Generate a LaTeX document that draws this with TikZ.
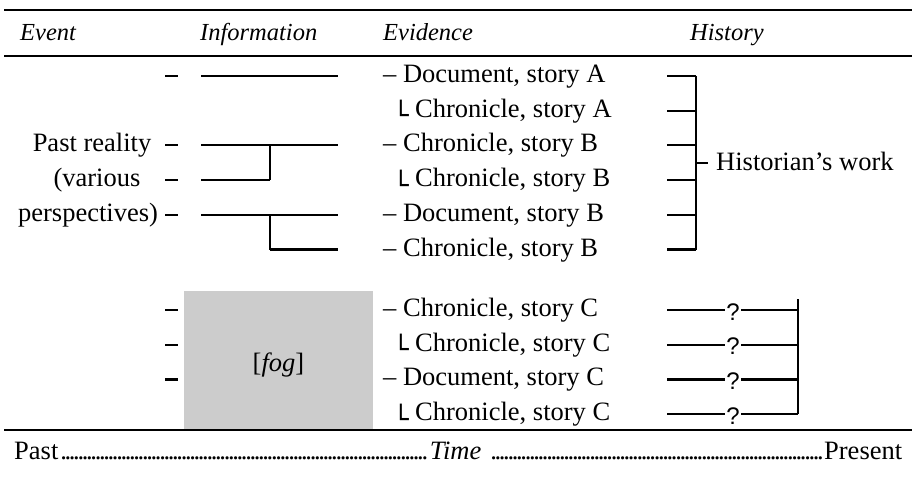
\documentclass[tikz,border=0pt]{standalone}
\usepackage{fontspec}
\setmainfont{Liberation Serif}
\newfontfamily\boxfont{DejaVu Sans}
\newfontfamily\qfont{Liberation Sans}
\definecolor{fogc}{HTML}{CCCCCC}
\newcommand{\cornermark}{\makebox[17pt][l]{\hspace{-5pt}\raisebox{-7.6pt}{\boxfont\fontsize{26}{26}\selectfont └}}}
\newcommand{\dotsleader}[1]{\leaders\hbox to 4.3pt{\hss.\hss}\hskip 0pt plus #1fill\relax}
\tikzset{
  hl/.style={line width=2.2pt},
  vl/.style={line width=1.3pt},
  rulel/.style={line width=1.3pt},
  txt/.style={inner sep=0pt, font=\fontsize{26.5}{30}\selectfont},
  hdr/.style={inner sep=0pt, font=\fontsize{24.5}{28}\selectfont\itshape},
  qm/.style={inner sep=0pt, font=\qfont\fontsize{24}{26}\selectfont},
}
\begin{document}
\begin{tikzpicture}[x=1pt,y=-1pt]
\useasboundingbox (0,0) rectangle (912,489);
% rules
\coordinate (r1a) at (4,10);  \coordinate (r1b) at (912,10);
\coordinate (r2a) at (4,56);  \coordinate (r2b) at (912,56);
\draw[rulel] (r1a) -- (r1b);
\draw[rulel] (r2a) -- (r2b);
% header
\node[hdr,anchor=base west] (hEvent) at (20,40.5) {Event};
\node[hdr,anchor=base west] (hInfo) at (200,40.5) {Information};
\node[hdr,anchor=base west] (hEvid) at (383,40.5) {Evidence};
\node[hdr,anchor=base west] (hHist) at (690,40.5) {History};
% event column
\node[txt,anchor=base] (past) at (92,151.9) {Past reality};
\node[txt,anchor=base] (various) at (97,186.6) {(various};
\node[txt,anchor=base] (persp) at (88,221.3) {perspectives)};
\foreach \i/\y in {1/76,2/145.4,3/180.1,4/214.8,5/310,6/344.7,7/379.4}{
  \coordinate (ea\i) at (165,\y); \coordinate (eb\i) at (178,\y);
  \draw[hl] (ea\i) -- (eb\i);
}
% information column
\coordinate (i1a) at (201,76);    \coordinate (i1b) at (338,76);
\coordinate (i2a) at (201,145.4); \coordinate (i2m) at (270,145.4); \coordinate (i2b) at (338,145.4);
\coordinate (i3a) at (201,180.1); \coordinate (i3m) at (270,180.1);
\coordinate (i4a) at (201,214.8); \coordinate (i4m) at (270,214.8); \coordinate (i4b) at (338,214.8);
\coordinate (i5m) at (270,249.5); \coordinate (i5b) at (338,249.5);
\draw[hl] (i1a) -- (i1b);
\draw[hl] (i2a) -- (i2b);
\draw[hl] (i3a) -- (i3m);
\draw[vl] (i2m) -- (i3m);
\draw[hl] (i4a) -- (i4b);
\draw[vl] (i4m) -- (i5m);
\draw[hl] (i5m) -- (i5b);
% fog
\coordinate (fogtl) at (184,291); \coordinate (fogbr) at (373,430);
\fill[fogc] (fogtl) rectangle (fogbr);
\node[txt,anchor=base] (fog) at (278.5,371) {[\textit{fog}]};
% evidence column
\node[txt,anchor=base west] (ev1) at (383,82.5) {– Document, story A};
\node[txt,anchor=base west] (ev2) at (398,117.2) {\cornermark Chronicle, story A};
\node[txt,anchor=base west] (ev3) at (383,151.9) {– Chronicle, story B};
\node[txt,anchor=base west] (ev4) at (398,186.6) {\cornermark Chronicle, story B};
\node[txt,anchor=base west] (ev5) at (383,221.3) {– Document, story B};
\node[txt,anchor=base west] (ev6) at (383,256) {– Chronicle, story B};
\node[txt,anchor=base west] (ev7) at (383,316.5) {– Chronicle, story C};
\node[txt,anchor=base west] (ev8) at (398,351.2) {\cornermark Chronicle, story C};
\node[txt,anchor=base west] (ev9) at (383,385.9) {– Document, story C};
\node[txt,anchor=base west] (ev10) at (398,420.5) {\cornermark Chronicle, story C};
% history: upper bracket
\foreach \i/\y in {1/76,2/110.7,3/145.4,4/180.1,5/214.8,6/249.5}{
  \coordinate (ha\i) at (667,\y); \coordinate (hb\i) at (696,\y);
  \draw[hl] (ha\i) -- (hb\i);
}
\draw[vl] (hb1) -- (hb6);
\coordinate (hm) at (696,162.7); \coordinate (hmt) at (708,162.7);
\draw[hl] (hm) -- (hmt);
\node[txt,anchor=base west] (hw) at (716,171) {Historian’s work};
% history: lower bracket
\foreach \i/\y in {1/310,2/344.7,3/379.4,4/414}{
  \coordinate (qa\i) at (667,\y); \coordinate (qb\i) at (725,\y);
  \coordinate (qc\i) at (741,\y); \coordinate (qd\i) at (798,\y);
  \node[qm,anchor=base] (q\i) at (733,\y+10) {?};
  \draw[hl] (qa\i) -- (qb\i);
  \draw[hl] (qc\i) -- (qd\i);
}
\coordinate (qtop) at (798,299);
\draw[vl] (qtop) -- (qd4);
% bottom rule and timeline
\coordinate (r3a) at (4,430); \coordinate (r3b) at (912,430);
\draw[rulel] (r3a) -- (r3b);
\node[txt,anchor=base west] (timeline) at (14,459) {\hbox to 888pt{Past\hspace{3pt}\dotsleader{1.1}\textit{Time}\hspace{8pt}\dotsleader{1}Present}};
\end{tikzpicture}
\end{document}
